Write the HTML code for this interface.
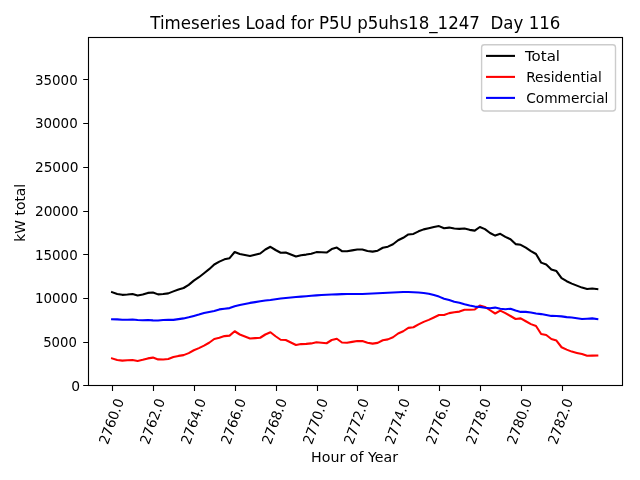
<!DOCTYPE html>
<html lang="en"><head><meta charset="utf-8"><title>Timeseries Load</title>
<style>
html,body{margin:0;padding:0;background:#fff;}
body{width:640px;height:480px;overflow:hidden;}
svg{display:block;font-family:"DejaVu Sans","Liberation Sans",sans-serif;fill:#000;}
text{filter:brightness(1);}
.t{font-size:13.89px;}
.ti{font-size:16.67px;}
.ln{fill:none;stroke-width:2.08;stroke-linejoin:round;stroke-linecap:square;}
.lg{fill:none;stroke-width:2.08;stroke-linecap:square;}
.ax{stroke:#000;stroke-width:1.11;fill:none;stroke-linecap:butt;}
</style></head><body>
<svg width="640" height="480" viewBox="0 0 640 480">
<rect x="0" y="0" width="640" height="480" fill="#fff"/>
<polyline class="ln" stroke="#000" points="112.10,292.15 117.21,293.90 122.31,294.85 127.42,294.50 132.53,294.00 137.64,295.40 142.75,294.50 147.85,292.90 152.96,292.50 158.07,294.40 163.18,294.00 168.28,293.40 173.39,291.40 178.50,289.50 183.60,288.00 188.71,284.85 193.82,280.65 198.93,277.20 204.03,273.20 209.14,269.15 214.25,264.50 219.36,261.65 224.46,259.35 229.57,258.20 234.68,252.00 239.79,254.00 244.89,255.00 250.00,255.90 255.11,254.70 260.22,253.50 265.32,249.50 270.43,246.78 275.54,250.00 280.65,252.74 285.75,252.47 290.86,254.46 295.97,256.51 301.08,255.20 306.19,254.60 311.29,253.69 316.40,252.13 321.51,252.32 326.62,252.55 331.72,249.05 336.83,247.60 341.94,251.14 347.04,251.27 352.15,250.40 357.26,249.50 362.37,249.53 367.48,250.97 372.58,251.62 377.69,250.67 382.80,247.78 387.90,246.67 393.01,244.26 398.12,240.25 403.23,237.78 408.34,234.48 413.44,233.94 418.55,231.34 423.66,229.38 428.76,228.15 433.87,227.00 438.98,226.10 444.09,228.25 449.19,227.60 454.30,228.50 459.41,228.85 464.52,228.50 469.62,229.85 474.73,230.60 479.84,227.00 484.95,229.15 490.05,233.00 495.16,235.60 500.27,233.85 505.38,236.85 510.49,239.25 515.59,244.10 520.70,244.80 525.81,247.65 530.91,251.10 536.02,254.00 541.13,262.60 546.24,264.50 551.35,269.40 556.45,271.10 561.56,278.15 566.67,281.20 571.77,283.60 576.88,285.65 581.99,287.60 587.10,289.00 592.21,288.50 597.31,289.05"/>
<polyline class="ln" stroke="#f00" points="112.10,358.40 117.21,360.00 122.31,360.60 127.42,360.25 132.53,360.00 137.64,360.90 142.75,359.75 147.85,358.40 152.96,357.60 158.07,359.40 163.18,359.50 168.28,359.00 173.39,357.00 178.50,355.90 183.60,355.10 188.71,353.10 193.82,350.25 198.93,348.10 204.03,345.60 209.14,342.75 214.25,339.00 219.36,337.75 224.46,336.10 229.57,335.60 234.68,331.25 239.79,334.50 244.89,336.50 250.00,338.50 255.11,338.10 260.22,337.75 265.32,334.50 270.43,332.25 275.54,336.25 280.65,339.75 285.75,340.00 290.86,342.50 295.97,345.00 301.08,344.10 306.19,343.90 311.29,343.40 316.40,342.25 321.51,342.75 326.62,343.25 331.72,340.00 336.83,338.75 341.94,342.50 347.04,342.75 352.15,341.90 357.26,341.00 362.37,341.10 367.48,342.75 372.58,343.60 377.69,342.90 382.80,340.25 387.90,339.40 393.01,337.25 398.12,333.50 403.23,331.25 408.34,327.90 413.44,327.25 418.55,324.40 423.66,321.90 428.76,319.90 433.87,317.50 438.98,315.00 444.09,315.00 449.19,313.10 454.30,312.25 459.41,311.60 464.52,309.75 469.62,309.75 474.73,309.50 479.84,305.60 484.95,306.90 490.05,310.25 495.16,313.50 500.27,310.60 505.38,313.10 510.49,316.00 515.59,319.00 520.70,318.40 525.81,321.25 530.91,324.10 536.02,326.00 541.13,334.00 546.24,335.00 551.35,339.00 556.45,340.60 561.56,347.25 566.67,349.60 571.77,351.60 576.88,352.90 581.99,354.10 587.10,355.80 592.21,355.60 597.31,355.45"/>
<polyline class="ln" stroke="#00f" points="112.10,319.25 117.21,319.40 122.31,319.75 127.42,319.75 132.53,319.50 137.64,320.00 142.75,320.25 147.85,320.00 152.96,320.40 158.07,320.50 163.18,320.00 168.28,319.90 173.39,319.90 178.50,319.10 183.60,318.40 188.71,317.25 193.82,315.90 198.93,314.60 204.03,313.10 209.14,311.90 214.25,311.00 219.36,309.40 224.46,308.75 229.57,308.10 234.68,306.25 239.79,305.00 244.89,304.00 250.00,302.90 255.11,302.10 260.22,301.25 265.32,300.50 270.43,300.03 275.54,299.25 280.65,298.49 285.75,297.97 290.86,297.46 295.97,297.01 301.08,296.60 306.19,296.20 311.29,295.79 316.40,295.38 321.51,295.07 326.62,294.80 331.72,294.55 336.83,294.35 341.94,294.14 347.04,294.02 352.15,294.00 357.26,294.00 362.37,293.93 367.48,293.72 372.58,293.52 377.69,293.27 382.80,293.03 387.90,292.77 393.01,292.51 398.12,292.25 403.23,292.03 408.34,292.08 413.44,292.19 418.55,292.44 423.66,292.98 428.76,293.75 433.87,295.00 438.98,296.60 444.09,298.75 449.19,300.00 454.30,301.75 459.41,302.75 464.52,304.25 469.62,305.60 474.73,306.60 479.84,306.90 484.95,307.75 490.05,308.25 495.16,307.60 500.27,308.75 505.38,309.25 510.49,308.75 515.59,310.60 520.70,311.90 525.81,311.90 530.91,312.50 536.02,313.50 541.13,314.10 546.24,315.00 551.35,315.90 556.45,316.00 561.56,316.40 566.67,317.10 571.77,317.50 576.88,318.25 581.99,319.00 587.10,318.70 592.21,318.40 597.31,319.10"/>
<rect class="ax" x="88.5" y="37.5" width="534" height="348" stroke-linecap="square"/>
<path class="ax" d="M83.2,385.5H88.5M83.2,342.5H88.5M83.2,298.5H88.5M83.2,254.5H88.5M83.2,211.5H88.5M83.2,167.5H88.5M83.2,123.5H88.5M83.2,79.5H88.5M112.5,385.5V390.9M153.5,385.5V390.9M194.5,385.5V390.9M235.5,385.5V390.9M276.5,385.5V390.9M317.5,385.5V390.9M357.5,385.5V390.9M398.5,385.5V390.9M439.5,385.5V390.9M480.5,385.5V390.9M521.5,385.5V390.9M562.5,385.5V390.9"/>
<text class="t" x="80.10" y="390.78" text-anchor="end">0</text>
<text class="t" x="76.90" y="347.07" text-anchor="end" textLength="33.70" lengthAdjust="spacingAndGlyphs">5000</text>
<text class="t" x="77.68" y="303.35" text-anchor="end" textLength="42.74" lengthAdjust="spacingAndGlyphs">10000</text>
<text class="t" x="77.68" y="259.64" text-anchor="end" textLength="42.74" lengthAdjust="spacingAndGlyphs">15000</text>
<text class="t" x="78.60" y="215.92" text-anchor="end" textLength="43.70" lengthAdjust="spacingAndGlyphs">20000</text>
<text class="t" x="78.60" y="172.21" text-anchor="end" textLength="43.70" lengthAdjust="spacingAndGlyphs">25000</text>
<text class="t" x="77.68" y="128.49" text-anchor="end" textLength="42.74" lengthAdjust="spacingAndGlyphs">30000</text>
<text class="t" x="77.68" y="84.78" text-anchor="end" textLength="42.74" lengthAdjust="spacingAndGlyphs">35000</text>
<text class="t" transform="translate(107.87,445.30) rotate(-70)" textLength="47.40" lengthAdjust="spacingAndGlyphs">2760.0</text>
<text class="t" transform="translate(148.87,445.30) rotate(-70)" textLength="47.40" lengthAdjust="spacingAndGlyphs">2762.0</text>
<text class="t" transform="translate(189.87,445.30) rotate(-70)" textLength="47.40" lengthAdjust="spacingAndGlyphs">2764.0</text>
<text class="t" transform="translate(229.87,445.30) rotate(-70)" textLength="47.40" lengthAdjust="spacingAndGlyphs">2766.0</text>
<text class="t" transform="translate(270.87,445.30) rotate(-70)" textLength="47.40" lengthAdjust="spacingAndGlyphs">2768.0</text>
<text class="t" transform="translate(311.87,445.30) rotate(-70)" textLength="47.40" lengthAdjust="spacingAndGlyphs">2770.0</text>
<text class="t" transform="translate(352.87,445.30) rotate(-70)" textLength="47.40" lengthAdjust="spacingAndGlyphs">2772.0</text>
<text class="t" transform="translate(393.87,445.30) rotate(-70)" textLength="47.40" lengthAdjust="spacingAndGlyphs">2774.0</text>
<text class="t" transform="translate(434.87,445.30) rotate(-70)" textLength="47.40" lengthAdjust="spacingAndGlyphs">2776.0</text>
<text class="t" transform="translate(474.87,445.30) rotate(-70)" textLength="47.40" lengthAdjust="spacingAndGlyphs">2778.0</text>
<text class="t" transform="translate(515.87,445.30) rotate(-70)" textLength="47.40" lengthAdjust="spacingAndGlyphs">2780.0</text>
<text class="t" transform="translate(556.87,445.30) rotate(-70)" textLength="47.40" lengthAdjust="spacingAndGlyphs">2782.0</text>
<text class="t" x="311.05" y="461.60" textLength="86.95" lengthAdjust="spacingAndGlyphs">Hour of Year</text>
<text class="t" transform="translate(25.15,212.75) rotate(-90)" text-anchor="middle">kW total</text>
<text class="ti" transform="translate(150.30,28.80) scale(1,1.055)" textLength="410.15" lengthAdjust="spacingAndGlyphs" xml:space="preserve" style="white-space:pre">Timeseries Load for P5U p5uhs18_1247  Day 116</text>
<rect x="481.60" y="44.75" width="133.90" height="66.25" rx="2.8" ry="2.8" fill="#fff" fill-opacity="0.8" stroke="#ccc" stroke-width="1.39"/>
<path class="lg" stroke="#000" d="M487.04,55.90H513.96"/>
<path class="lg" stroke="#f00" d="M487.04,76.90H513.96"/>
<path class="lg" stroke="#00f" d="M487.04,97.90H513.96"/>
<text class="t" x="525.00" y="60.60" textLength="35.00" lengthAdjust="spacingAndGlyphs">Total</text>
<text class="t" x="526.20" y="81.60" textLength="75.65" lengthAdjust="spacingAndGlyphs">Residential</text>
<text class="t" x="526.20" y="102.65" textLength="82.20" lengthAdjust="spacingAndGlyphs">Commercial</text>
</svg>
</body></html>
